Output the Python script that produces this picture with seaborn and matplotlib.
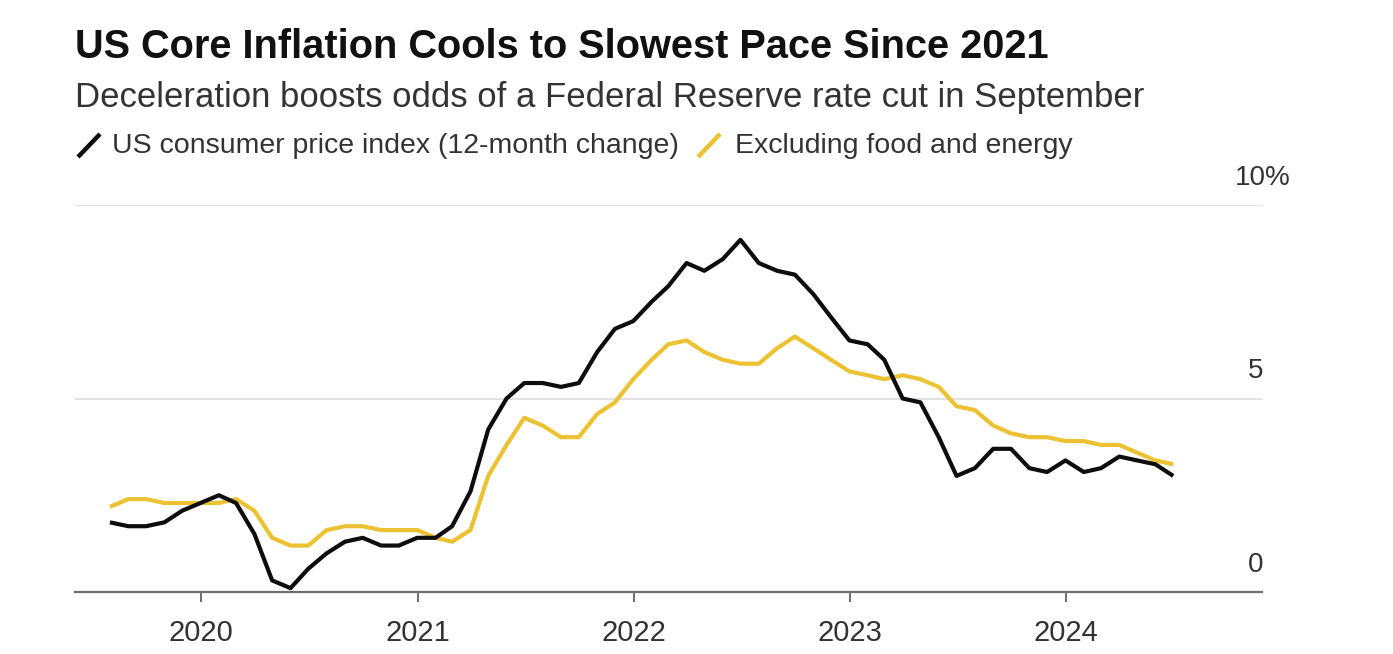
import matplotlib
matplotlib.use("Agg")
import matplotlib.pyplot as plt
import matplotlib.dates as mdates
import matplotlib.transforms as mtransforms
from matplotlib.lines import Line2D
import pandas as pd
import seaborn as sns

# ---------------- data ----------------
first_month = "2019-07"
last_month = "2024-06"
cpi_name = "US consumer price index (12-month change)"
core_name = "Excluding food and energy"
cpi = [1.8, 1.7, 1.7, 1.8, 2.1, 2.3,
       2.5, 2.3, 1.5, 0.3, 0.1, 0.6, 1.0, 1.3, 1.4, 1.2, 1.2, 1.4,
       1.4, 1.7, 2.6, 4.2, 5.0, 5.4, 5.4, 5.3, 5.4, 6.2, 6.8, 7.0,
       7.5, 7.9, 8.5, 8.3, 8.6, 9.1, 8.5, 8.3, 8.2, 7.7, 7.1, 6.5,
       6.4, 6.0, 5.0, 4.9, 4.0, 3.0, 3.2, 3.7, 3.7, 3.2, 3.1, 3.4,
       3.1, 3.2, 3.5, 3.4, 3.3, 3.0]
core = [2.2, 2.4, 2.4, 2.3, 2.3, 2.3,
        2.3, 2.4, 2.1, 1.4, 1.2, 1.2, 1.6, 1.7, 1.7, 1.6, 1.6, 1.6,
        1.4, 1.3, 1.6, 3.0, 3.8, 4.5, 4.3, 4.0, 4.0, 4.6, 4.9, 5.5,
        6.0, 6.4, 6.5, 6.2, 6.0, 5.9, 5.9, 6.3, 6.6, 6.3, 6.0, 5.7,
        5.6, 5.5, 5.6, 5.5, 5.3, 4.8, 4.7, 4.3, 4.1, 4.0, 4.0, 3.9,
        3.9, 3.8, 3.8, 3.6, 3.4, 3.3]
x_tick_years = [2020, 2021, 2022, 2023, 2024]
y_ticks = [0, 5, 10]
y_labels = ["0", "5", "10%"]

title = "US Core Inflation Cools to Slowest Pace Since 2021"
subtitle = "Deceleration boosts odds of a Federal Reserve rate cut in September"

# ---------------- frame ----------------
dates = pd.period_range(first_month, last_month, freq="M").to_timestamp(how="end").normalize()
df = pd.DataFrame({
    "date": list(dates) * 2,
    "value": cpi + core,
    "series": [cpi_name] * len(cpi) + [core_name] * len(core),
})

BLACK = "#0d0d0d"
YELLOW = "#ECC232"

sns.set_style("white")
plt.rcParams["font.family"] = ["Liberation Sans", "DejaVu Sans"]

W, H = 1393, 654
fig = plt.figure(figsize=(W / 100, H / 100), dpi=100)
ax_l, ax_r, ax_b, ax_t = 75, 1262, 592, 205
ax = fig.add_axes([ax_l / W, 1 - ax_b / H, (ax_r - ax_l) / W, (ax_b - ax_t) / H])

sns.lineplot(data=df, x="date", y="value", hue="series",
             hue_order=[core_name, cpi_name],
             palette={cpi_name: BLACK, core_name: YELLOW},
             linewidth=3.0, legend=False, ax=ax)
for ln in ax.lines:
    ln.set_clip_on(False)
    ln.set_solid_joinstyle("round")
    ln.set_solid_capstyle("butt")

ax.set_ylim(0, 10)
ax.set_xlim(pd.Timestamp("2019-06-02"), pd.Timestamp("2024-11-27"))
ax.set_xlabel("")
ax.set_ylabel("")

for s in ["left", "right", "top"]:
    ax.spines[s].set_visible(False)
ax.spines["bottom"].set_color("#707070")
ax.spines["bottom"].set_linewidth(1.6)

ax.set_yticks(y_ticks)
ax.yaxis.grid(True, color="#e2e2e2", linewidth=1.5)
ax.set_axisbelow(True)
ax.tick_params(axis="y", left=False, labelleft=False)

ax.set_xticks([pd.Timestamp(f"{y}-01-01") for y in x_tick_years])
ax.xaxis.set_major_formatter(mdates.DateFormatter("%Y"))
ax.tick_params(axis="x", bottom=True, direction="out", length=7.2, width=1.44,
               color="#707070", pad=12, labelsize=21, labelcolor="#333333")

# y labels on the right, above the gridlines
trans = mtransforms.blended_transform_factory(ax.transAxes, ax.transData)
trans = trans + mtransforms.ScaledTranslation(0, 27 / 100, fig.dpi_scale_trans)
for v, lab in zip(y_ticks, y_labels):
    xr = 1291 if lab.endswith("%") else 1263
    ax.text((xr - ax_l) / (ax_r - ax_l), v, lab, transform=trans,
            ha="right", va="center", fontsize=20, color="#333333")

# ---------------- titles & legend ----------------
fig.text(75 / W, 1 - 58 / H, title, fontsize=28.6, fontweight="bold",
         color="#111111", ha="left", va="baseline")
fig.text(75 / W, 1 - 107 / H, subtitle, fontsize=25, color="#333333",
         ha="left", va="baseline")

def slash(x0, color):
    fig.add_artist(Line2D([x0 / W, (x0 + 22) / W], [1 - 157 / H, 1 - 134 / H],
                          color=color, linewidth=3.2, solid_capstyle="butt",
                          transform=fig.transFigure))

slash(78, BLACK)
fig.text(112 / W, 1 - 153 / H, cpi_name, fontsize=20.5, color="#333333",
         ha="left", va="baseline")
slash(698, YELLOW)
fig.text(735 / W, 1 - 153 / H, core_name, fontsize=20.5, color="#333333",
         ha="left", va="baseline")

fig.savefig("out.png", dpi=100)
